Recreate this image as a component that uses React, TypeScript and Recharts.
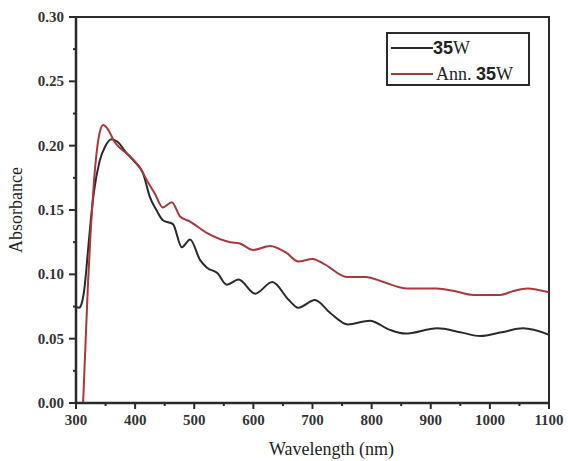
import React from 'react';
import { LineChart, Line, XAxis, YAxis, ReferenceArea } from 'recharts';

// wavelength (nm) / absorbance
const blackNm = [300, 305, 310, 315, 320, 325, 330, 340, 350, 360, 370, 386, 400, 413, 425, 436, 447, 464, 479, 493, 510, 522, 539, 555, 575, 603, 632, 660, 676, 704, 730, 760, 797, 830, 857, 911, 950, 984, 1020, 1056, 1100];
const blackAbs = [0.075, 0.074, 0.078, 0.092, 0.117, 0.142, 0.163, 0.188, 0.2, 0.205, 0.203, 0.194, 0.187, 0.179, 0.16, 0.15, 0.142, 0.139, 0.121, 0.127, 0.111, 0.105, 0.101, 0.092, 0.096, 0.085, 0.094, 0.08, 0.074, 0.08, 0.07, 0.061, 0.064, 0.057, 0.054, 0.058, 0.055, 0.052, 0.055, 0.058, 0.053];

const annNm = [312, 316, 320, 325, 330, 335, 340, 346, 355, 365, 375, 391, 408, 420, 433, 447, 462, 476, 493, 522, 561, 577, 600, 628, 655, 676, 700, 720, 758, 790, 820, 860, 910, 940, 972, 1017, 1040, 1063, 1100];
const annAbs = [0, 0.045, 0.09, 0.135, 0.17, 0.195, 0.21, 0.216, 0.212, 0.203, 0.198, 0.192, 0.183, 0.173, 0.163, 0.152, 0.156, 0.145, 0.141, 0.132, 0.125, 0.124, 0.119, 0.122, 0.117, 0.11, 0.112, 0.108, 0.098, 0.098, 0.094, 0.089, 0.089, 0.087, 0.084, 0.084, 0.087, 0.089, 0.086];

const xTicks = [300, 350, 400, 450, 500, 550, 600, 650, 700, 750, 800, 850, 900, 950, 1000, 1050, 1100];
const yTicks = [0, 0.025, 0.05, 0.075, 0.1, 0.125, 0.15, 0.175, 0.2, 0.225, 0.25, 0.275, 0.3];

const blackData = blackNm.map((nm, i) => ({ nm, abs: blackAbs[i] }));
const annData = annNm.map((nm, i) => ({ nm, abs: annAbs[i] }));

const SERIF = '"Liberation Serif", "DejaVu Serif", serif';
const INK = '#2a2a2a';
const RED = '#a8383c';

const XTick = (props: any) => {
  const { x, y, payload } = props;
  const major = payload.value % 100 === 0;
  return (
    <g>
      <line x1={x} y1={y} x2={x} y2={y + (major ? 6 : 3)} stroke={INK} strokeWidth={2} />
      {major && (
        <text x={x} y={y + 22} textAnchor="middle" fontFamily={SERIF} fontSize={15} fontWeight="bold" fill="#333">
          {payload.value}
        </text>
      )}
    </g>
  );
};

const YTick = (props: any) => {
  const { x, y, payload } = props;
  const v = payload.value;
  const major = Math.abs(v * 20 - Math.round(v * 20)) < 1e-6;
  return (
    <g>
      <line x1={x} y1={y} x2={x - (major ? 7 : 3)} y2={y} stroke={INK} strokeWidth={2} />
      {major && (
        <text x={x - 12} y={y + 5} textAnchor="end" fontFamily={SERIF} fontSize={15} fontWeight="bold" fill="#333">
          {v.toFixed(2)}
        </text>
      )}
    </g>
  );
};

const bold35 = { fontFamily: '"Liberation Sans", sans-serif', fontWeight: 'bold' as const };

const LegendBox = () => (
  <div
    style={{
      position: 'absolute',
      left: 386,
      top: 32,
      border: `2px solid ${INK}`,
      width: 144,
      height: 54,
      boxSizing: 'border-box',
      background: '#fff',
      fontFamily: SERIF,
      fontSize: 18,
      color: '#222',
      padding: '3px 0 0 3px',
      lineHeight: '22px',
    }}
  >
    <div style={{ display: 'flex', alignItems: 'center' }}>
      <span style={{ display: 'inline-block', width: 42, height: 2, background: INK }} />
      <span style={bold35}>35</span>
      <span>W</span>
    </div>
    <div style={{ display: 'flex', alignItems: 'center', marginTop: 4 }}>
      <span style={{ display: 'inline-block', width: 42, height: 2, background: RED, marginRight: 3 }} />
      <span>Ann.&nbsp;</span>
      <span style={bold35}>35</span>
      <span>W</span>
    </div>
  </div>
);

export default function App() {
  return (
    <div style={{ position: 'absolute', left: 0, top: 0, width: 568, height: 461, background: '#fff' }}>
      <LineChart width={568} height={461} margin={{ top: 17, right: 19, bottom: 28, left: 16 }}>
        <XAxis
          type="number"
          dataKey="nm"
          domain={[300, 1100]}
          ticks={xTicks}
          interval={0}
          tickSize={0}
          tickMargin={0}
          tick={<XTick />}
          height={30}
          stroke={INK}
          strokeWidth={2.5}
          allowDataOverflow
          label={{ value: 'Wavelength (nm)', position: 'insideBottom', offset: -22, dx: 19, fontFamily: SERIF, fontSize: 18, fill: '#222' }}
        />
        <YAxis
          type="number"
          domain={[0, 0.3]}
          ticks={yTicks}
          interval={0}
          tickSize={0}
          tickMargin={0}
          tick={<YTick />}
          width={60}
          stroke={INK}
          strokeWidth={2.5}
          allowDataOverflow
          label={{ value: 'Absorbance', angle: -90, position: 'insideLeft', offset: 0, fontFamily: SERIF, fontSize: 18, fill: '#222', style: { textAnchor: 'middle' } }}
        />
        <ReferenceArea x1={300} x2={1100} y1={0} y2={0.3} fill="none" stroke={INK} strokeWidth={2} />
        <Line data={blackData} dataKey="abs" name="35W" type="monotone" stroke={INK} strokeWidth={2} dot={false} isAnimationActive={false} />
        <Line data={annData} dataKey="abs" name="Ann. 35W" type="monotone" stroke={RED} strokeWidth={2} dot={false} isAnimationActive={false} />
      </LineChart>
      <LegendBox />
    </div>
  );
}
